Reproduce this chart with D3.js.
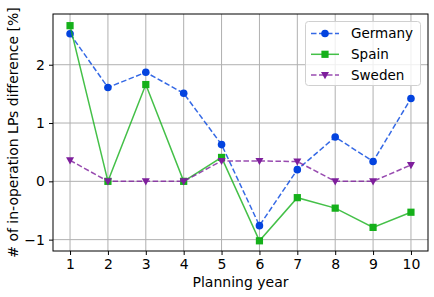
<!DOCTYPE html>
<html><head><meta charset="utf-8">
<script src="https://cdn.jsdelivr.net/npm/d3@7"></script>
<style>body{margin:0;background:#fff}svg{display:block;font-family:"DejaVu Sans",sans-serif}</style>
</head><body><svg id="c" width="434" height="297"></svg>
<script>
const years = [1,2,3,4,5,6,7,8,9,10];
const germany = [2.53,1.61,1.87,1.51,0.63,-0.76,0.20,0.76,0.34,1.42];
const spain = [2.67,0.0,1.66,0.0,0.41,-1.02,-0.28,-0.46,-0.79,-0.53];
const sweden = [0.36,0.0,0.0,0.0,0.35,0.35,0.34,0.0,0.0,0.28];
const xTicks = [1,2,3,4,5,6,7,8,9,10];
const yTicks = [-1,0,1,2];
const seriesNames = ["Germany","Spain","Sweden"];

const series = [
  {name:seriesNames[0], values:germany, color:"#0343df", dash:"5.5,2.5", marker:"circle"},
  {name:seriesNames[1], values:spain, color:"#15b01a", dash:null, marker:"square"},
  {name:seriesNames[2], values:sweden, color:"#7e1e9c", dash:"5.5,2.5", marker:"triangle"}
];

const svg = d3.select("#c");
const L=53, T=14, R=428, B=251;
const x = d3.scaleLinear().domain([0.55,10.45]).range([L,R]);
const y = d3.scaleLinear().domain([-1.195,2.87]).range([B,T]);

// grid
const g = svg.append("g");
g.selectAll(".gx").data(xTicks).enter().append("line")
  .attr("x1",d=>x(d)).attr("x2",d=>x(d)).attr("y1",T).attr("y2",B)
  .attr("stroke","#b0b0b0").attr("stroke-width",1);
g.selectAll(".gy").data(yTicks).enter().append("line")
  .attr("y1",d=>y(d)).attr("y2",d=>y(d)).attr("x1",L).attr("x2",R)
  .attr("stroke","#b0b0b0").attr("stroke-width",1);

// axes
const xa = svg.append("g").attr("transform",`translate(0,${B})`)
  .call(d3.axisBottom(x).tickValues(xTicks).tickSize(4).tickPadding(4).tickFormat(d3.format("d")));
const ya = svg.append("g").attr("transform",`translate(${L},0)`)
  .call(d3.axisLeft(y).tickValues(yTicks).tickSize(4).tickPadding(4).tickFormat(d=>d<0?"\u2212"+Math.abs(d):d));
[xa,ya].forEach(a=>{
  a.select(".domain").remove();
  a.selectAll("text").attr("font-size",14).attr("fill","#000").attr("font-family","DejaVu Sans");
  a.selectAll("line").attr("stroke","#000");
});

// lines and markers
const line = d3.line().x((d,i)=>x(years[i])).y(d=>y(d));
function drawMarker(sel, type, color, cx, cy){
  if(type==="circle") sel.append("circle").attr("cx",cx).attr("cy",cy).attr("r",3.8).attr("fill",color);
  else if(type==="square") sel.append("rect").attr("x",cx-3.6).attr("y",cy-3.6).attr("width",7.2).attr("height",7.2).attr("fill",color);
  else sel.append("path").attr("d",`M${cx-4},${cy-3} L${cx+4},${cy-3} L${cx},${cy+4.2} Z`).attr("fill",color);
}
series.forEach(s=>{
  svg.append("path").attr("d",line(s.values)).attr("fill","none")
    .attr("stroke",s.color).attr("stroke-opacity",0.8).attr("stroke-width",1.5)
    .attr("stroke-dasharray",s.dash);
  const mg = svg.append("g");
  s.values.forEach((v,i)=>drawMarker(mg,s.marker,s.color,x(years[i]),y(v)));
});

// frame
svg.append("rect").attr("x",L).attr("y",T).attr("width",R-L).attr("height",B-T)
  .attr("fill","none").attr("stroke","#000").attr("stroke-width",1);

// legend
const lg = svg.append("g");
lg.append("rect").attr("x",305.5).attr("y",21.5).attr("width",115).attr("height",64).attr("rx",3)
  .attr("fill","#fff").attr("fill-opacity",0.8).attr("stroke","#d0d0d0");
series.forEach((s,i)=>{
  const yy = 33.5 + i*20.8;
  lg.append("line").attr("x1",311).attr("x2",339).attr("y1",yy).attr("y2",yy)
    .attr("stroke",s.color).attr("stroke-opacity",0.8).attr("stroke-width",1.5).attr("stroke-dasharray",s.dash);
  drawMarker(lg,s.marker,s.color,325,yy);
  lg.append("text").attr("x",351).attr("y",yy).attr("dy","0.36em").attr("font-size",13.5).text(s.name);
});

// axis labels
svg.append("text").attr("x",(L+R)/2).attr("y",287).attr("text-anchor","middle").attr("font-size",14).text("Planning year");
svg.append("text").attr("transform",`translate(18,${(T+B)/2}) rotate(-90)`).attr("text-anchor","middle")
  .attr("font-size",14).text("# of in-operation LPs difference [%]");
</script></body></html>
